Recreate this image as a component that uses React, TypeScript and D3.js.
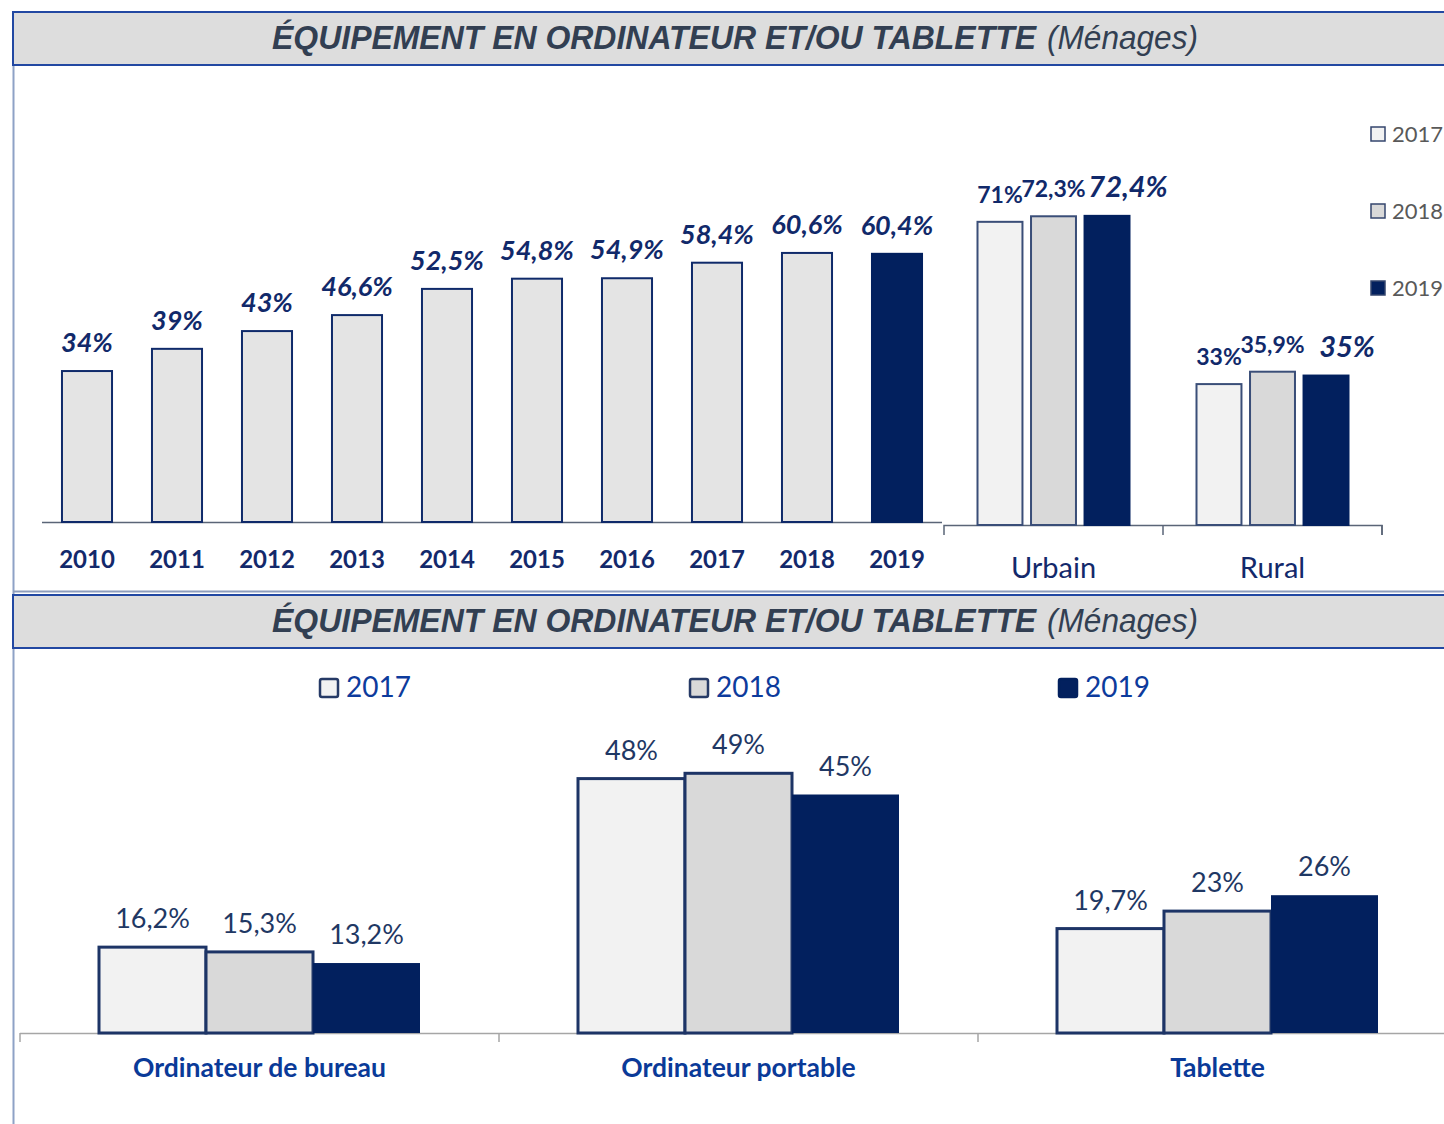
import React from "react";
import * as d3 from "d3";

const years = ["2010", "2011", "2012", "2013", "2014", "2015", "2016", "2017", "2018", "2019"];
const yearValues = [34, 39, 43, 46.6, 52.5, 54.8, 54.9, 58.4, 60.6, 60.4];
const yearLabels = ["34%", "39%", "43%", "46,6%", "52,5%", "54,8%", "54,9%", "58,4%", "60,6%", "60,4%"];

const series = ["2017", "2018", "2019"];
const zones = ["Urbain", "Rural"];
const zoneValues = [
  [71, 72.3, 72.4],
  [33, 35.9, 35],
];
const zoneLabels = [
  ["71%", "72,3%", "72,4%"],
  ["33%", "35,9%", "35%"],
];

const devices = ["Ordinateur de bureau", "Ordinateur portable", "Tablette"];
const deviceValues = [
  [16.2, 15.3, 13.2],
  [48, 49, 45],
  [19.7, 23, 26],
];
const deviceLabels = [
  ["16,2%", "15,3%", "13,2%"],
  ["48%", "49%", "45%"],
  ["19,7%", "23%", "26%"],
];

const NAVY = "#02205e";
const FILLS = ["#f2f2f2", "#d9d9d9", NAVY];
const FONT = "Lato, 'Open Sans', sans-serif";
const TITLE_FONT = "'Liberation Sans', Arial, sans-serif";

function TitleBox({ y }: { y: number }) {
  return (
    <g>
      <rect x={13} y={y} width={1445} height={53} fill="#dddddd" stroke="#2248a2" strokeWidth={2} />
      <text
        x={272}
        y={y + 37}
        fontFamily={TITLE_FONT}
        fontSize={33}
        fill="#323f52"
        fontStyle="italic"
        fontWeight="bold"
        textLength={764}
        lengthAdjust="spacingAndGlyphs"
      >
        ÉQUIPEMENT EN ORDINATEUR ET/OU TABLETTE
      </text>
      <text
        x={1047}
        y={y + 37}
        fontFamily={TITLE_FONT}
        fontSize={33}
        fill="#323f52"
        fontStyle="italic"
        fontWeight="normal"
        textLength={151}
        lengthAdjust="spacingAndGlyphs"
      >
        (Ménages)
      </text>
    </g>
  );
}

export default function App() {
  // Top-left chart
  const xYear = d3.scaleBand<string>().domain(years).range([42, 942]).paddingInner(0.444).paddingOuter(0.222);
  const yTop = d3.scaleLinear().domain([0, 100]).range([522, 78]);

  // Top-right chart
  const xZone = d3.scaleBand<string>().domain(zones).range([944, 1382]).padding(0);
  const xZoneInner = d3.scaleBand<string>().domain(series).range([-76, 76]).paddingInner(0.16).paddingOuter(0);
  const yZone = d3.scaleLinear().domain([0, 100]).range([525, 98]);

  // Bottom chart
  const xDev = d3.scaleBand<string>().domain(devices).range([20, 1457]).padding(0);
  const xDevInner = d3.scaleBand<string>().domain(series).range([-160.5, 160.5]).padding(0);
  const yDev = d3.scaleLinear().domain([0, 100]).range([1033, 503]);

  const bottomLegendX = [320, 690, 1059];

  return (
    <svg
      width={1444}
      height={1124}
      style={{ position: "absolute", left: 0, top: 0, background: "#ffffff" }}
      xmlns="http://www.w3.org/2000/svg"
    >
      <rect x={0} y={0} width={1444} height={1124} fill="#ffffff" />
      {/* frame */}
      <line x1={13.5} y1={64} x2={13.5} y2={1124} stroke="#8ea2c6" strokeWidth={2} />
      <line x1={13} y1={591.5} x2={1444} y2={591.5} stroke="#8e9dbc" strokeWidth={2} />
      <TitleBox y={12} />
      <TitleBox y={595} />

      {/* Top-left: years */}
      <line x1={42} y1={522.5} x2={942} y2={522.5} stroke="#5a6577" strokeWidth={1.5} />
      {years.map((yr, i) => {
        const x = xYear(yr)!;
        const w = xYear.bandwidth();
        const last = i === years.length - 1;
        return (
          <g key={yr}>
            <rect
              x={x}
              y={yTop(yearValues[i])}
              width={w}
              height={yTop(0) - yTop(yearValues[i])}
              fill={last ? NAVY : "#e4e4e4"}
              stroke={last ? NAVY : "#0f2a6a"}
              strokeWidth={2}
            />
            <text
              x={x + w / 2}
              y={yTop(yearValues[i]) - 19}
              textAnchor="middle"
              fontFamily={FONT}
              fontWeight="bold"
              fontStyle="italic"
              fontSize={27}
              fill="#11296a"
            >
              {yearLabels[i]}
            </text>
            <text
              x={x + w / 2}
              y={568}
              textAnchor="middle"
              fontFamily={FONT}
              fontWeight="bold"
              fontSize={24}
              fill="#13296b"
            >
              {yr}
            </text>
          </g>
        );
      })}

      {/* Top-right: zones */}
      <path
        d={`M${xZone.range()[0]},535V525.5H${xZone.range()[1]}V535`}
        fill="none"
        stroke="#5a6577"
        strokeWidth={1.5}
      />
      {zones.map((z) => (
        <line
          key={`t-${z}`}
          x1={xZone(z)! + xZone.bandwidth()}
          x2={xZone(z)! + xZone.bandwidth()}
          y1={525}
          y2={535}
          stroke="#5a6577"
          strokeWidth={1.5}
        />
      ))}
      {zones.map((z, zi) => {
        const cx = xZone(z)! + xZone.bandwidth() / 2;
        return (
          <g key={z}>
            {series.map((s, si) => {
              const x = cx + xZoneInner(s)!;
              const w = xZoneInner.bandwidth();
              const v = zoneValues[zi][si];
              const is19 = si === 2;
              return (
                <g key={s}>
                  <rect
                    x={x}
                    y={yZone(v)}
                    width={w}
                    height={yZone(0) - yZone(v)}
                    fill={FILLS[si]}
                    stroke={is19 ? NAVY : "#3a4e78"}
                    strokeWidth={2}
                  />
                  <text
                    x={x + w / 2 + (is19 ? 21 : 0)}
                    y={yZone(v) - 19}
                    textAnchor="middle"
                    fontFamily={FONT}
                    fontWeight="bold"
                    fontStyle={is19 ? "italic" : "normal"}
                    fontSize={is19 ? 29 : 23}
                    fill="#11296a"
                  >
                    {zoneLabels[zi][si]}
                  </text>
                </g>
              );
            })}
            <text x={cx} y={578} textAnchor="middle" fontFamily={FONT} fontSize={29} fill="#13296b">
              {z}
            </text>
          </g>
        );
      })}

      {/* Top-right legend */}
      {series.map((s, si) => (
        <g key={`lg-${s}`}>
          <rect x={1371} y={127 + si * 77} width={14} height={14} fill={FILLS[si]} stroke="#34466e" strokeWidth={1.5} />
          <text x={1392} y={142 + si * 77} fontFamily={FONT} fontSize={22} fill="#595959">
            {s}
          </text>
        </g>
      ))}

      {/* Bottom legend */}
      {series.map((s, si) => (
        <g key={`blg-${s}`}>
          <rect
            x={bottomLegendX[si]}
            y={679}
            width={18}
            height={18}
            rx={2}
            fill={FILLS[si]}
            stroke={si === 2 ? NAVY : "#263a66"}
            strokeWidth={2.5}
          />
          <text x={bottomLegendX[si] + 26} y={697} fontFamily={FONT} fontSize={28} fill="#0d3b9c">
            {s}
          </text>
        </g>
      ))}

      {/* Bottom chart */}
      <line x1={20} y1={1033.5} x2={1444} y2={1033.5} stroke="#a6a6a6" strokeWidth={1.5} />
      {devices.map((d) => (
        <line
          key={`bt-${d}`}
          x1={xDev(d)!}
          x2={xDev(d)!}
          y1={1033}
          y2={1042}
          stroke="#a6a6a6"
          strokeWidth={1.5}
        />
      ))}
      {devices.map((d, di) => {
        const cx = xDev(d)! + xDev.bandwidth() / 2;
        return (
          <g key={d}>
            {series.map((s, si) => {
              const x = cx + xDevInner(s)!;
              const w = xDevInner.bandwidth();
              const v = deviceValues[di][si];
              const is19 = si === 2;
              return (
                <g key={s}>
                  <rect
                    x={x}
                    y={yDev(v)}
                    width={w}
                    height={yDev(0) - yDev(v)}
                    fill={FILLS[si]}
                    stroke={is19 ? "none" : "#1d3466"}
                    strokeWidth={3}
                  />
                  <text
                    x={x + w / 2}
                    y={yDev(v) - 19}
                    textAnchor="middle"
                    fontFamily={FONT}
                    fontSize={27}
                    fill="#1f3864"
                  >
                    {deviceLabels[di][si]}
                  </text>
                </g>
              );
            })}
            <text
              x={cx}
              y={1077}
              textAnchor="middle"
              fontFamily={FONT}
              fontWeight="bold"
              fontSize={26.5}
              fill="#0a3a98"
            >
              {d}
            </text>
          </g>
        );
      })}
    </svg>
  );
}
